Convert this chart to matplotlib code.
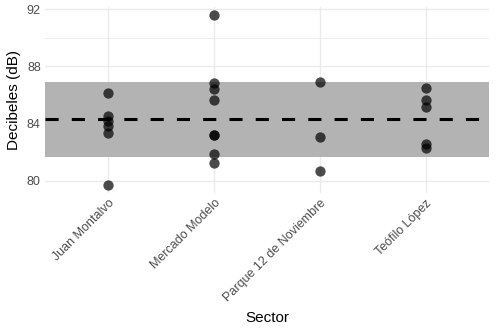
import matplotlib
matplotlib.use("Agg")
import matplotlib.pyplot as plt
import numpy as np

plt.rcParams['font.family'] = ['Liberation Sans', 'DejaVu Sans']

sectors = ["Juan Montalvo", "Mercado Modelo", "Parque 12 de Noviembre", "Teófilo López"]
juan = [86.15, 84.5, 84.15, 83.8, 83.33, 79.72]
mercado = [91.58, 86.83, 86.41, 85.66, 83.22, 83.18, 81.87, 81.24]
parque = [86.88, 83.08, 80.7]
teofilo = [86.46, 85.66, 85.17, 82.57, 82.29]
values = [juan, mercado, parque, teofilo]

yticks = [80, 84, 88, 92]
yminor = [82, 86, 90]

all_vals = np.concatenate([np.array(v) for v in values])
mean = all_vals.mean()
sd = all_vals.std(ddof=1)

fig = plt.figure(figsize=(4.96, 3.31), dpi=100)
ax = fig.add_axes([45/496, 1 - 193/331, 444/496, 186/331])

xs = np.arange(len(sectors))
ax.set_xlim(-0.6, len(sectors) - 1 + 0.6)
lo, hi = all_vals.min(), all_vals.max()
pad = (hi - lo) * 0.05
ax.set_ylim(lo - pad, hi + pad)

# grid
for y in yticks:
    ax.axhline(y, color='#ebebeb', lw=1.0, zorder=0)
for y in yminor:
    ax.axhline(y, color='#ebebeb', lw=0.6, zorder=0)
for x in xs:
    ax.axvline(x, color='#ebebeb', lw=1.0, zorder=0)

ax.axhspan(mean - sd, mean + sd, color='#b3b3b3', zorder=1, lw=0)
line = ax.axhline(mean, color='black', lw=2.2, zorder=2)
line.set_dashes([4.3, 4.3])

for i, v in enumerate(values):
    ax.scatter([xs[i]] * len(v), v, s=55, color='black', alpha=0.7, lw=0, zorder=3)

for s in ax.spines.values():
    s.set_visible(False)
ax.set_xticks(xs)
ax.set_xticklabels(sectors, rotation=45, ha='right', rotation_mode='anchor',
                   fontsize=9, color='#4d4d4d')
ax.set_yticks(yticks)
ax.set_yticklabels([str(y) for y in yticks], fontsize=9, color='#4d4d4d')
ax.tick_params(length=0, pad=3)
ax.set_xlabel("Sector", fontsize=11, labelpad=5)
ax.set_ylabel("Decibeles (dB)", fontsize=11, labelpad=4)

fig.savefig("out.png", dpi=100)
